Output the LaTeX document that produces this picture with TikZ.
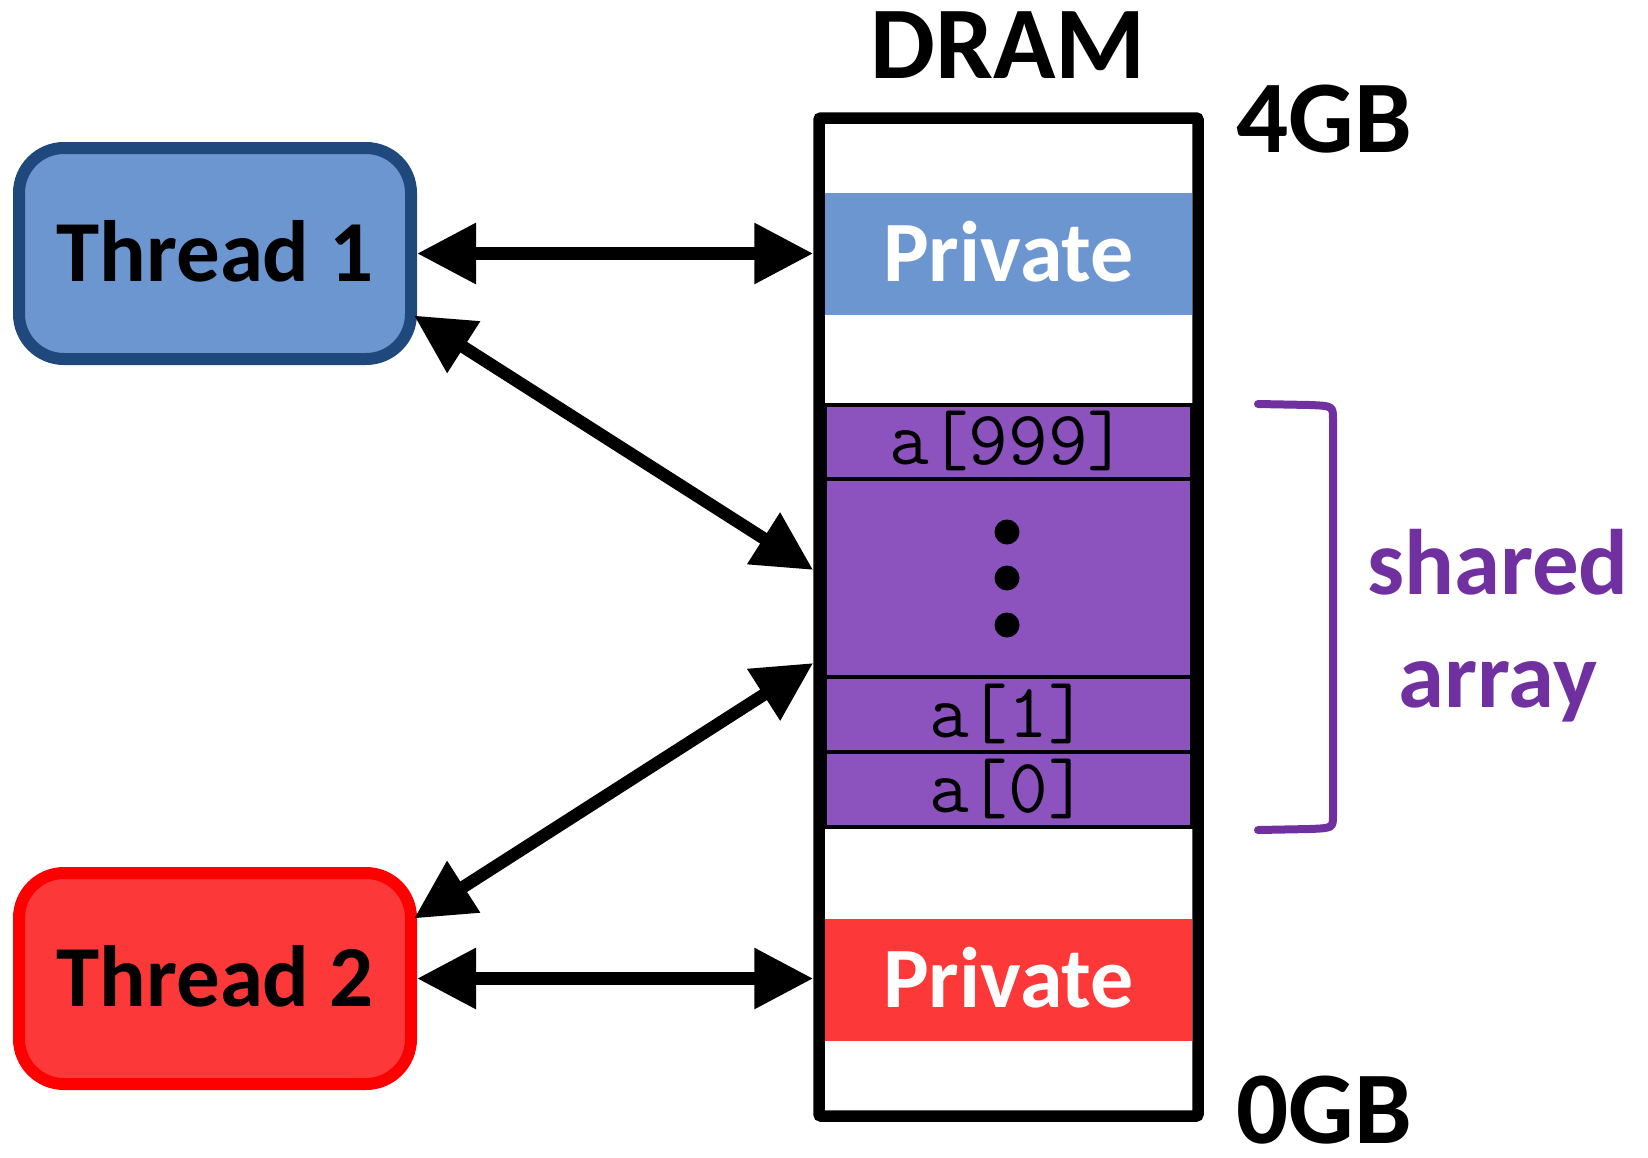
\documentclass[tikz,border=0pt]{standalone}
\usepackage{fontspec}
\setmainfont{Carlito}
\usetikzlibrary{arrows.meta,calc}

\definecolor{tblue}{RGB}{108,150,208}
\definecolor{tblueline}{RGB}{31,73,125}
\definecolor{tred}{RGB}{252,56,56}
\definecolor{tredline}{RGB}{255,0,0}
\definecolor{cellpurple}{RGB}{140,82,190}
\definecolor{sharedpurple}{RGB}{112,48,160}

\begin{document}
\begin{tikzpicture}[x=1pt,y=-1pt,
  thread/.style={rectangle, rounded corners=45pt, line width=12pt,
    minimum width=392pt, minimum height=211pt, inner sep=0pt,
    font=\fontsize{87}{100}\selectfont\bfseries, text height=56pt, text depth=0pt},
  band/.style={rectangle, minimum width=367pt, minimum height=122pt, inner sep=0pt,
    text=white, font=\fontsize{86}{100}\selectfont\bfseries, text height=55pt, text depth=0pt},
  cell/.style={rectangle, draw=black, line width=4pt, fill=cellpurple,
    minimum width=367pt, inner sep=0pt,
    font=\fontsize{77}{80}\selectfont\ttfamily\addfontfeatures{LetterSpace=10},
    text height=45pt, text depth=0pt},
  biglabel/.style={inner sep=0pt, font=\fontsize{103}{110}\selectfont\bfseries},
  biarrow/.style={line width=12.5pt,
    {Triangle[length=59pt,width=58pt]}-{Triangle[length=59pt,width=58pt]}},
  dot/.style={fill=black}
]
\useasboundingbox (0,0) rectangle (1648,1157);

% threads
\node[thread, draw=tblueline, fill=tblue] (t1) at (215,253.5) {Thread 1};
\node[thread, draw=tredline, fill=tred] (t2) at (215,978.5) {Thread 2};

% private regions
\node[band, fill=tblue] (priv1) at (1008.5,254) {Private};
\node[band, fill=tred] (priv2) at (1008.5,980) {Private};

% shared array cells
\node[cell, minimum height=74pt] (a999) at (1008.5,442) {a[999]};
\node[cell, minimum height=198pt] (amid) at (1008.5,578) {};
\node[cell, minimum height=75pt] (a1) at (1008.5,714.5) {a[1]};
\node[cell, minimum height=75pt] (a0) at (1008.5,789.5) {a[0]};
\fill[dot] (1007,532) circle[radius=12.5pt];
\fill[dot] (1007,578) circle[radius=12.5pt];
\fill[dot] (1007,625) circle[radius=12.5pt];

% memory outline
\node[rectangle, draw=black, line width=11.5pt, rounded corners=2pt,
  minimum width=379pt, minimum height=998pt, inner sep=0pt] (dram) at (1008.5,617) {};

% labels
\node[biglabel, anchor=base] (dramlbl) at (1008,78) {DRAM};
\node[biglabel, anchor=base west] (top) at (1236,152) {4GB};
\node[biglabel, anchor=base west] (bottom) at (1236,1143) {0GB};

% bracket around the shared array
\draw[sharedpurple, line width=8pt, line cap=round]
  (1258,404) -- (1310,405) .. controls (1333,406) .. (1333,420)
  -- (1333,815) .. controls (1333,828) .. (1310,829) -- (1258,830);
\node[inner sep=0pt, align=center, text=sharedpurple,
  font=\fontsize{93}{113}\selectfont\bfseries] (sharedlbl) at (1498,626) {shared\\array};

% accesses
\coordinate (t1d) at ($(t1.east)+(-3,62)$);
\coordinate (t2d) at ($(t2.east)+(-3,-60)$);
\coordinate (d1) at ($(dram.west)+(0,-47)$);
\coordinate (d2) at ($(dram.west)+(0,46)$);
\draw[biarrow] (t1.east) -- (t1.east -| dram.west);
\draw[biarrow] (t2.east) -- (t2.east -| dram.west);
\draw[biarrow] (t1d) -- (d1);
\draw[biarrow] (t2d) -- (d2);
\end{tikzpicture}
\end{document}
